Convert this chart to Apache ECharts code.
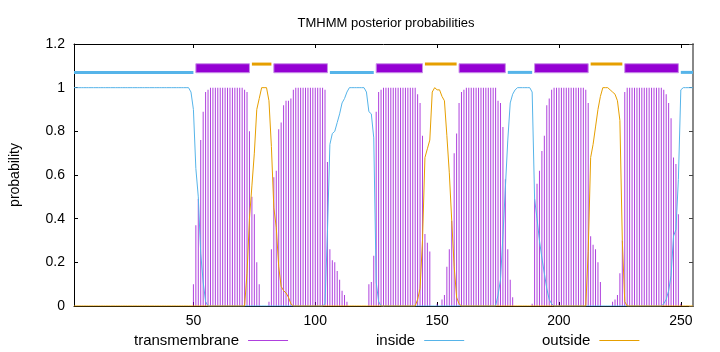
<!DOCTYPE html>
<html><head><meta charset="utf-8">
<script src="https://cdn.jsdelivr.net/npm/echarts@6/dist/echarts.min.js"></script>
<style>html,body{margin:0;padding:0;background:#fff}#c{width:720px;height:352px}</style>
</head><body><div id="c"></div><script>
// Posterior probabilities per residue (1..255)
const tm = [
0,0,0,0,0,0,0,0,0,0,
0,0,0,0,0,0,0,0,0,0,
0,0,0,0,0,0,0,0,0,0,
0,0,0,0,0,0,0,0,0,0,
0,0,0,0,0,0,0,0,0,0.10,
0.37,0.49,0.76,0.89,0.98,0.99,1,1,1,1,
1,1,1,1,1,1,1,1,1,1,
0.99,0.98,0.80,0.50,0.42,0.20,0.10,0,0,0,
0.02,0.26,0.59,0.62,0.81,0.84,0.92,0.94,0.94,0.95,
0.99,1,1,1,1,1,1,1,1,1,
1,1,1,0.99,0.66,0.26,0.21,0.20,0.16,0.12,
0.07,0.05,0.02,0,0,0,0,0,0,0,
0,0.10,0.11,0.23,0.89,0.98,0.99,1,1,1,
1,1,1,1,1,1,1,1,1,1,
1,0.97,0.93,0.78,0.33,0.29,0.25,0,0,0.01,
0,0.03,0.05,0.18,0.26,0.39,0.70,0.79,0.93,0.98,
0.99,1,1,1,1,1,1,1,1,1,
1,1,1,1,0.94,0.93,0.82,0.58,0.26,0.12,
0.04,0,0,0,0,0,0,0,0.01,0.49,
0.56,0.62,0.71,0.78,0.92,0.95,0.99,1,1,1,
1,1,1,1,1,1,1,1,1,1,
0.99,0.93,0.32,0.28,0.26,0.20,0.11,0,0,0,
0,0.02,0.03,0.05,0.15,0.30,0.98,1,1,1,
1,1,1,1,1,1,1,1,1,1,
1,1,0.99,0.97,0.93,0.86,0.68,0.65,0.42,0.01,
0,0,0,0,0
];
const inside = [
1,1,1,1,1,1,1,1,1,1,
1,1,1,1,1,1,1,1,1,1,
1,1,1,1,1,1,1,1,1,1,
1,1,1,1,1,1,1,1,1,1,
1,1,1,1,1,1,1,1,0.98,0.90,
0.63,0.50,0.24,0.11,0.02,0,0,0,0,0,
0,0,0,0,0,0,0,0,0,0,
0,0,0,0,0,0,0,0,0,0,
0,0,0,0,0,0,0,0,0,0,
0,0,0,0,0,0,0,0,0,0,
0,0,0,0.01,0.34,0.74,0.79,0.80,0.84,0.88,
0.93,0.95,0.98,1,1,1,1,1,1,1,
0.98,0.89,0.88,0.77,0.11,0.02,0,0,0,0,
0,0,0,0,0,0,0,0,0,0,
0,0,0,0,0,0,0,0,0,0,
0,0,0,0,0,0,0,0,0,0,
0,0,0,0,0,0,0,0,0,0,
0,0,0,0,0.05,0.12,0.32,0.54,0.76,0.93,
0.97,0.99,1,1,1,1,1,1,0.98,0.49,
0.40,0.30,0.22,0.15,0.08,0.03,0.01,0,0,0,
0,0,0,0,0,0,0,0,0,0,
0,0,0,0,0,0,0,0,0,0,
0,0,0,0,0,0,0,0,0,0,
0,0,0,0,0,0,0,0,0,0,
0,0,0.01,0.03,0.07,0.14,0.32,0.35,0.58,0.99,
1,1,1,1,1
];
const outside = [
0,0,0,0,0,0,0,0,0,0,
0,0,0,0,0,0,0,0,0,0,
0,0,0,0,0,0,0,0,0,0,
0,0,0,0,0,0,0,0,0,0,
0,0,0,0,0,0,0,0,0,0,
0,0,0,0,0,0,0,0,0,0,
0,0,0,0,0,0,0,0,0,0,
0,0.15,0.40,0.55,0.70,0.90,0.95,1,1,1,
0.94,0.73,0.45,0.36,0.18,0.09,0.07,0.06,0.04,0.01,
0,0,0,0,0,0,0,0,0,0,
0,0,0,0,0,0,0,0,0,0,
0,0,0,0,0,0,0,0,0,0,
0,0,0,0,0,0,0,0,0,0,
0,0,0,0,0,0,0,0,0,0,
0,0.03,0.08,0.30,0.68,0.72,0.76,0.98,1,0.99,
0.99,0.96,0.94,0.78,0.61,0.39,0.18,0.04,0.01,0,
0,0,0,0,0,0,0,0,0,0,
0,0,0,0,0,0,0,0,0,0,
0,0,0,0,0,0,0,0,0,0,
0,0,0,0,0,0,0,0,0,0,
0,0,0,0,0,0,0,0,0,0,
0,0.25,0.68,0.74,0.82,0.90,0.96,1,1,1,
0.99,0.98,0.97,0.94,0.85,0.30,0.02,0,0,0,
0,0,0,0,0,0,0,0,0,0,
0,0,0,0,0,0,0,0,0,0,
0,0,0,0,0
];
// Predicted topology segments [start, end]
const insideSegs = [[1,50],[106,124],[179,189],[250,255]];
const tmSegs = [[51,73],[83,105],[125,144],[159,178],[190,212],[227,249]];
const outsideSegs = [[74,82],[145,158],[213,226]];
const xTicks = [50,100,150,200,250];
const seqLength = 255;
const seriesNames = ['transmembrane','inside','outside'];
const titleText = 'TMHMM posterior probabilities';
const yName = 'probability';

const FONT = '"Liberation Sans", Arial, sans-serif';
const C_TM = '#9400d3', C_IN = '#56b4e9', C_OUT = '#e69f00';
const chart = echarts.init(document.getElementById('c'), null, {renderer:'canvas'});
const pairs = arr => arr.map((v,i)=>[i+1, v]);

function segSeries(segs, level, h, color, stroke) {
  return {
    type:'custom', silent:true, z:5, clip:false,
    xAxisIndex:0, yAxisIndex:0,
    data: segs.map(s=>[s[0], s[1], level]),
    encode:{x:[0,1], y:2},
    renderItem:(params, api) => {
      const a = api.coord([api.value(0), api.value(2)]);
      const b = api.coord([api.value(1), api.value(2)]);
      return {type:'rect', shape:{x:a[0], y:a[1]-h/2, width:b[0]-a[0], height:h},
        style: stroke ? {fill:color, stroke:stroke, lineWidth:1} : {fill:color}};
    }
  };
}

const txt = {fontFamily:FONT, fontSize:14, color:'#000'};
function legendAt(name, left) {
  return {data:[name], left:left, top:328, align:'right', icon:'rect', itemWidth:40, itemHeight:1,
    selectedMode:false,
    textStyle:Object.assign({}, txt, {fontSize:15, padding:[0,4,0,0]})};
}

chart.setOption({
  animation:false,
  backgroundColor:'#fff',
  title:{text:titleText, left:381, top:12, textAlign:'center',
    textStyle:{fontFamily:FONT, fontSize:13, fontWeight:'normal', color:'#000'}},
  grid:{left:74, right:27, top:44, bottom:46},
  legend:[legendAt(seriesNames[0],129), legendAt(seriesNames[1],371), legendAt(seriesNames[2],537)],
  xAxis:[
    {type:'value', min:1, max:seqLength, position:'bottom',
      axisLine:{onZero:false, lineStyle:{color:'#000', width:1}},
      axisTick:{inside:true, length:4, customValues:xTicks, lineStyle:{color:'#000'}},
      axisLabel:{customValues:xTicks, margin:8, ...txt},
      splitLine:{show:false}},
    {type:'value', min:1, max:seqLength, position:'top',
      axisLine:{onZero:false, lineStyle:{color:'#000', width:1}},
      axisTick:{inside:true, length:4, customValues:xTicks, lineStyle:{color:'#000'}},
      axisLabel:{show:false}, splitLine:{show:false}}
  ],
  yAxis:[
    {type:'value', min:0, max:1.2, interval:0.2, position:'left',
      name:yName, nameLocation:'middle', nameGap:52, nameTextStyle:txt,
      axisLine:{show:true, onZero:false, lineStyle:{color:'#000'}},
      axisTick:{show:true, inside:true, length:4, lineStyle:{color:'#000'}},
      axisLabel:{margin:9, ...txt}, splitLine:{show:false}},
    {type:'value', min:0, max:1.2, interval:0.2, position:'right',
      axisLine:{show:true, onZero:false, lineStyle:{color:'#888', width:2}},
      axisTick:{show:true, inside:true, length:4, lineStyle:{color:'#444'}},
      axisLabel:{show:false}, splitLine:{show:false}}
  ],
  series:[
    {name:seriesNames[0], type:'bar', data:pairs(tm), barWidth:1, silent:true,
      itemStyle:{color:C_TM, opacity:0.75}, xAxisIndex:0, yAxisIndex:0},
    {name:seriesNames[1], type:'line', data:pairs(inside), symbol:'none', silent:true,
      lineStyle:{color:C_IN, width:1}, itemStyle:{color:C_IN}, xAxisIndex:0, yAxisIndex:0},
    {name:seriesNames[2], type:'line', data:pairs(outside), symbol:'none', silent:true,
      lineStyle:{color:C_OUT, width:1}, itemStyle:{color:C_OUT}, xAxisIndex:0, yAxisIndex:0},
    segSeries(insideSegs, 1.07, 3, C_IN),
    segSeries(tmSegs, 1.089, 9, C_TM, '#c890e8'),
    segSeries(outsideSegs, 1.108, 3, C_OUT)
  ]
});
</script></body></html>
